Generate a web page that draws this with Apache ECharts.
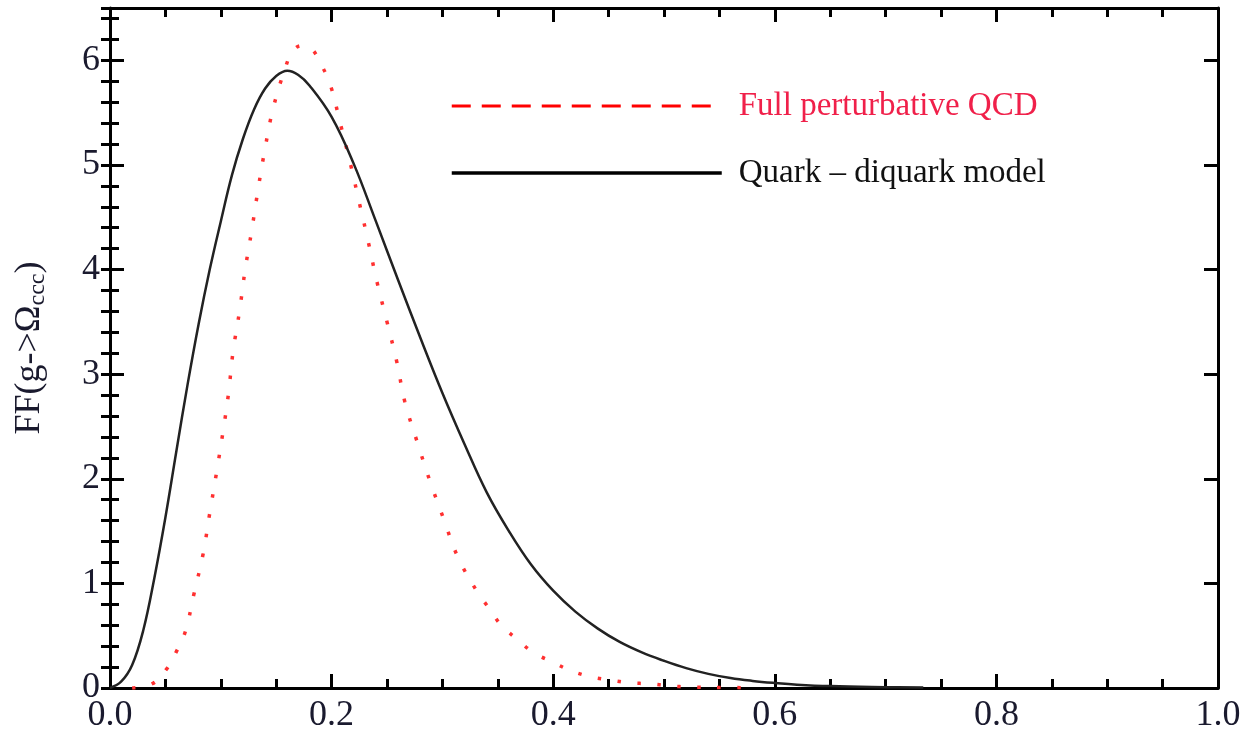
<!DOCTYPE html>
<html>
<head>
<meta charset="utf-8">
<script src="https://cdn.jsdelivr.net/npm/echarts@6/dist/echarts.min.js"></script>
<style>
  html, body { margin: 0; padding: 0; background: #fff; }
  #chart { width: 1252px; height: 739px; }
</style>
</head>
<body>
<div id="chart"></div>
<script>
// quark - diquark model (solid black)
const quarkX = [0, 0.01, 0.02, 0.03, 0.04, 0.05, 0.06, 0.07, 0.08, 0.09, 0.10, 0.11, 0.12, 0.13,
  0.14, 0.15, 0.16, 0.17, 0.18, 0.20, 0.22, 0.24, 0.26, 0.28, 0.30, 0.32, 0.34, 0.36, 0.38,
  0.40, 0.42, 0.44, 0.46, 0.48, 0.50, 0.52, 0.54, 0.56, 0.58, 0.60, 0.62, 0.65, 0.70, 0.734]
const quarkY = [0, 0.06, 0.22, 0.55, 1.05, 1.63, 2.27, 2.90, 3.48, 4.0, 4.46, 4.90, 5.25, 5.53,
  5.73, 5.85, 5.90, 5.86, 5.76, 5.46, 5.01, 4.46, 3.90, 3.35, 2.82, 2.33, 1.87, 1.50, 1.18,
  0.93, 0.73, 0.57, 0.44, 0.34, 0.26, 0.19, 0.135, 0.095, 0.068, 0.048, 0.032, 0.018, 0.008, 0.004]

// full perturbative QCD (red dots)
const pqcdX = [0.02, 0.038, 0.051, 0.060, 0.068, 0.076, 0.084, 0.090, 0.096, 0.102, 0.107, 0.111,
  0.117, 0.122, 0.128, 0.134, 0.140, 0.147, 0.158, 0.165, 0.173, 0.181, 0.191, 0.199, 0.208,
  0.217, 0.225, 0.233, 0.241, 0.250, 0.259, 0.266, 0.277, 0.289, 0.301, 0.314, 0.332, 0.343,
  0.353, 0.367, 0.382, 0.399, 0.415, 0.433, 0.451, 0.469, 0.487, 0.505, 0.523, 0.55, 0.578]
const pqcdY = [0, 0.04, 0.18, 0.35, 0.54, 0.91, 1.28, 1.67, 2.05, 2.45, 2.82, 3.21,
  3.61, 4.0, 4.38, 4.79, 5.16, 5.53, 5.92, 6.09, 6.14, 6.12, 5.95, 5.76, 5.39,
  5.01, 4.64, 4.27, 3.88, 3.50, 3.11, 2.74, 2.36, 1.97, 1.62, 1.25, 0.91, 0.75,
  0.60, 0.47, 0.34, 0.25, 0.17, 0.11, 0.077, 0.05, 0.04, 0.02, 0.01, 0.005, 0.003]

const seriesNames = ['Full perturbative QCD', 'Quark \u2013 diquark model']
const xRange = [0, 1]
const yRange = [0, 6.5]

const font = 'Liberation Serif'
const frame = { show: true, onZero: false, lineStyle: { color: '#000', width: 3 } }
const tickStyle = { color: '#000', width: 3 }
const noSymbol = { color: 'rgba(0,0,0,0)', borderWidth: 0, opacity: 0 }

function pairs(xs, ys) {
  return xs.map((x, i) => [x, ys[i]])
}

function xAxis(position, labels) {
  return {
    type: 'value',
    position: position,
    min: xRange[0],
    max: xRange[1],
    interval: 0.2,
    axisLine: frame,
    axisTick: { show: true, inside: true, length: 14, lineStyle: tickStyle },
    minorTick: { show: true, splitNumber: 4, length: 9, lineStyle: tickStyle },
    splitLine: { show: false },
    axisLabel: {
      show: labels,
      formatter: v => v.toFixed(1),
      fontFamily: font,
      fontSize: 36,
      color: '#1a1a2e',
      margin: 10
    }
  }
}

function yAxis(position, major, labels) {
  return {
    type: 'value',
    position: position,
    min: yRange[0],
    max: yRange[1],
    interval: major ? 1 : 0.2,
    axisLine: major ? frame : { show: false },
    axisTick: { show: true, inside: true, length: major ? 14 : 9, lineStyle: tickStyle },
    splitLine: { show: false },
    axisLabel: {
      show: labels,
      formatter: v => (v % 1 === 0 ? String(v) : ''),
      fontFamily: font,
      fontSize: 36,
      color: '#1a1a2e',
      margin: 10
    }
  }
}

const chart = echarts.init(document.getElementById('chart'))

const leftMajor = yAxis('left', true, true)
leftMajor.name = '{a|FF(g->\u03A9}{s|ccc}{a|)}'
leftMajor.nameLocation = 'middle'
leftMajor.nameRotate = 90
leftMajor.nameGap = 60
leftMajor.nameTextStyle = {
  rich: {
    a: { fontFamily: font, fontSize: 36, color: '#1a1a2e', lineHeight: 40, verticalAlign: 'middle' },
    s: { fontFamily: font, fontSize: 24, color: '#1a1a2e', lineHeight: 24, verticalAlign: 'bottom' }
  }
}

chart.setOption({
  animation: false,
  backgroundColor: '#fff',
  grid: { left: 110, right: 34, top: 8, bottom: 51, containLabel: false, outerBoundsMode: 'none' },
  legend: {
    orient: 'vertical',
    left: 450,
    top: 84,
    itemWidth: 270,
    itemHeight: 30,
    itemGap: 23,
    padding: 0,
    selectedMode: false,
    itemStyle: noSymbol,
    textStyle: { fontFamily: font, fontSize: 33, lineHeight: 34, padding: [0, 0, 10, 12] },
    data: [
      {
        name: seriesNames[0],
        itemStyle: noSymbol,
        lineStyle: { color: '#ff0000', width: 3, type: [19, 11] },
        textStyle: { color: '#f0204a' }
      },
      {
        name: seriesNames[1],
        itemStyle: noSymbol,
        lineStyle: { color: '#000', width: 3.5, type: 'solid' },
        textStyle: { color: '#111' }
      }
    ]
  },
  xAxis: [xAxis('bottom', true), xAxis('top', false)],
  yAxis: [leftMajor, yAxis('left', false, false), yAxis('right', true, false), yAxis('right', false, false)],
  series: [
    {
      name: seriesNames[0],
      type: 'line',
      data: pairs(pqcdX, pqcdY),
      symbol: 'none',
      smooth: 0.4,
      color: '#ff0000',
      lineStyle: { color: '#ff3030', width: 3.5, type: [3.5, 16.5] },
      z: 2
    },
    {
      name: seriesNames[1],
      type: 'line',
      data: pairs(quarkX, quarkY),
      symbol: 'none',
      smooth: 0.4,
      color: '#000',
      lineStyle: { color: '#222', width: 2.5 },
      z: 3
    }
  ]
})
</script>
</body>
</html>
